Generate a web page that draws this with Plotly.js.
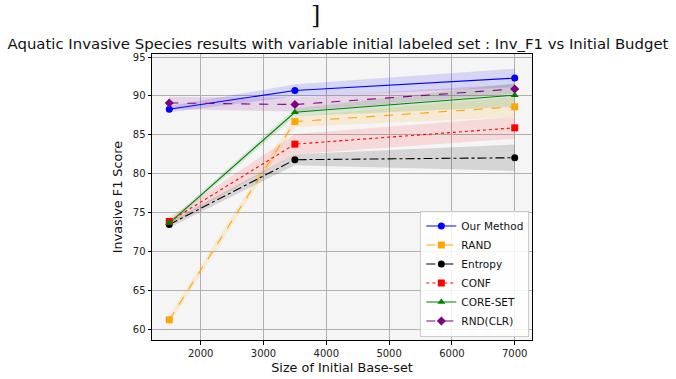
<!DOCTYPE html>
<html><head><meta charset="utf-8">
<script src="https://cdn.plot.ly/plotly-3.0.1.min.js"></script>
<style>html,body{margin:0;padding:0;background:#fff}</style>
</head><body>
<div id="chart" style="width:676px;height:379px"></div>
<script>
const budgets = [1500, 3500, 7000];
const seriesNames = ["Our Method", "RAND", "Entropy", "CONF", "CORE-SET", "RND(CLR)"];
const ourMethod = [88.3, 90.7, 92.3];
const rand = [61.2, 86.7, 88.6];
const entropy = [73.45, 81.8, 82.05];
const conf = [73.85, 83.8, 85.9];
const coreSet = [73.65, 87.9, 90.1];
const rndClr = [89.1, 88.9, 90.9];
const ourMethodStd = [0.4, 0.8, 1.2];
const randStd = [0.5, 0.7, 1.3];
const entropyStd = [0.4, 0.7, 1.7];
const confStd = [0.5, 1.3, 1.4];
const coreSetStd = [0.3, 0.5, 1.5];
const rndClrStd = [0.8, 0.9, 0.6];

const values = [ourMethod, rand, entropy, conf, coreSet, rndClr];
const stds = [ourMethodStd, randStd, entropyStd, confStd, coreSetStd, rndClrStd];
const colors = ["#0000ff", "#ffa500", "#000000", "#ff0000", "#008000", "#800080"];
const fills = ["rgba(0,0,255,0.13)", "rgba(255,165,0,0.13)", "rgba(0,0,0,0.13)", "rgba(255,0,0,0.11)", "rgba(0,128,0,0.13)", "rgba(128,0,128,0.13)"];
const dashes = ["solid", "dash", "dashdot", "dot", "solid", "dash"];
const symbols = ["circle", "square", "circle", "square", "triangle-up", "diamond"];

const traces = [];
values.forEach((v, i) => {
  const up = v.map((y, j) => y + stds[i][j]);
  const lo = v.map((y, j) => y - stds[i][j]);
  traces.push({x: budgets, y: lo, mode: "lines", line: {width: 0, color: fills[i]}, showlegend: false, hoverinfo: "skip"});
  traces.push({x: budgets, y: up, mode: "lines", line: {width: 0, color: fills[i]}, fill: "tonexty", fillcolor: fills[i], showlegend: false, hoverinfo: "skip"});
});
values.forEach((v, i) => {
  traces.push({x: budgets, y: v, name: seriesNames[i], mode: "lines+markers",
    line: {color: colors[i], width: 1.1, dash: dashes[i]},
    marker: {color: colors[i], symbol: symbols[i], size: 7}});
});

const layout = {
  width: 676, height: 379,
  margin: {l: 152, r: 144, t: 54, b: 39},
  paper_bgcolor: "#ffffff", plot_bgcolor: "#f5f5f5",
  font: {family: "DejaVu Sans", color: "#222", size: 10},
  title: {text: "Aquatic Invasive Species results with variable initial labeled set : Inv_F1 vs Initial Budget",
    font: {size: 14.9, family: "DejaVu Sans", color: "#111"}, x: 0.5, xanchor: "center", y: 0.885, yanchor: "middle"},
  xaxis: {range: [1225, 7275], tickvals: [2000, 3000, 4000, 5000, 6000, 7000],
    showgrid: true, gridcolor: "#b0b0b0", gridwidth: 1, zeroline: false,
    showline: true, linecolor: "#000", linewidth: 1, mirror: true,
    ticks: "outside", ticklen: 3.5, tickcolor: "#000", tickfont: {size: 10, color: "#222"},
    title: {text: "Size of Initial Base-set", font: {size: 12.8, color: "#111"}, standoff: 5}},
  yaxis: {range: [58.6, 95.4], tickvals: [60, 65, 70, 75, 80, 85, 90, 95],
    showgrid: true, gridcolor: "#b0b0b0", gridwidth: 1, zeroline: false,
    showline: true, linecolor: "#000", linewidth: 1, mirror: true,
    ticks: "outside", ticklen: 3.5, tickcolor: "#000", tickfont: {size: 10, color: "#222"},
    title: {text: "Invasive F1 Score", font: {size: 12.8, color: "#111"}, standoff: 7}},
  legend: {x: 0.993, y: 0.012, xanchor: "right", yanchor: "bottom", traceorder: "normal",
    bgcolor: "rgba(255,255,255,0.85)", bordercolor: "#cccccc", borderwidth: 1,
    font: {size: 10.5, color: "#111"}, tracegroupgap: 0, itemwidth: 30},
  annotations: [{text: "]", xref: "paper", yref: "paper", x: 0.429, y: 1.136, xanchor: "center", yanchor: "middle",
    showarrow: false, font: {size: 24, family: "DejaVu Serif", color: "#111"}}],
  showlegend: true
};
Plotly.newPlot("chart", traces, layout, {displayModeBar: false, staticPlot: true});
</script>
</body></html>
